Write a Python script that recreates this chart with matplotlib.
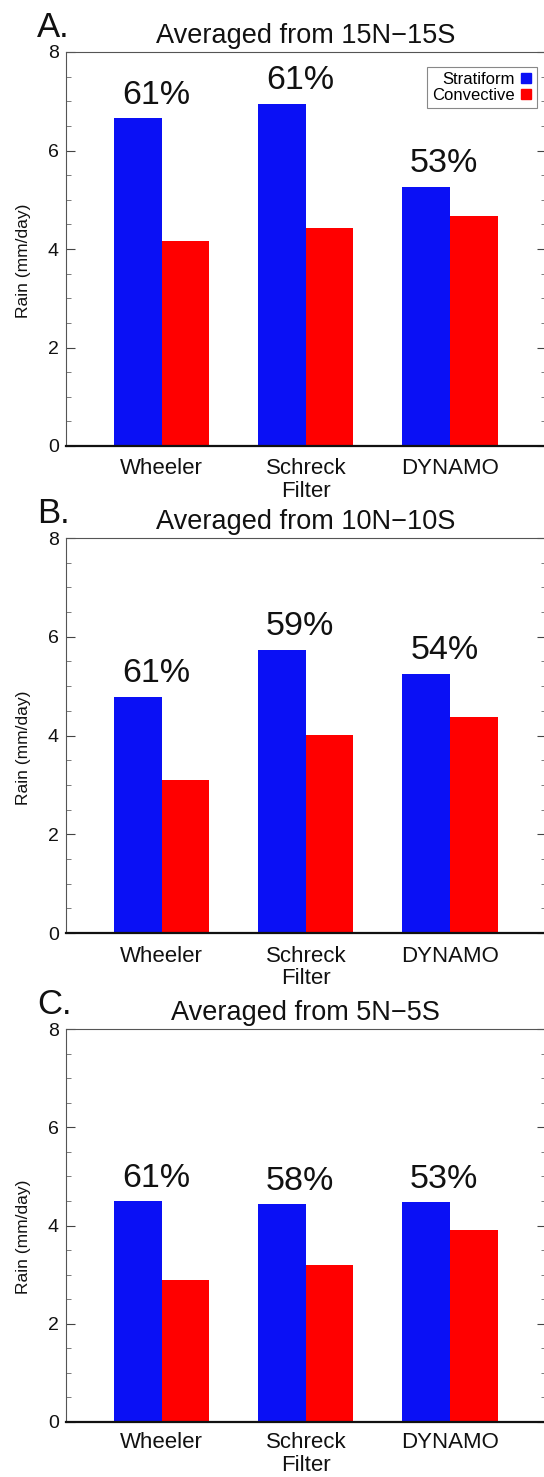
import matplotlib
matplotlib.use("Agg")
import matplotlib.pyplot as plt
from matplotlib.lines import Line2D
from matplotlib.ticker import MultipleLocator, FixedLocator
import numpy as np

plt.rcParams['font.family'] = ['Liberation Sans', 'DejaVu Sans']

# ---------------- data ----------------
categories = ["Wheeler", "Schreck\nFilter", "DYNAMO"]
panel_letters = ["A.", "B.", "C."]
panel_titles = ["Averaged from 15N\u221215S", "Averaged from 10N\u221210S", "Averaged from 5N\u22125S"]

stratiform_A = [6.65, 6.95, 5.26]
convective_A = [4.17, 4.43, 4.67]
percent_A = ["61%", "61%", "53%"]

stratiform_B = [4.78, 5.73, 5.24]
convective_B = [3.10, 4.01, 4.37]
percent_B = ["61%", "59%", "54%"]

stratiform_C = [4.49, 4.43, 4.47]
convective_C = [2.90, 3.19, 3.90]
percent_C = ["61%", "58%", "53%"]

series_labels = ["Stratiform", "Convective"]
yticks = [0, 2, 4, 6, 8]
ylabel = "Rain (mm/day)"

# ---------------- style ----------------
BLUE = "#0A10F5"
RED = "#FF0000"
W, H, DPI = 5.44, 14.77, 100
fig = plt.figure(figsize=(W, H), dpi=DPI)

left = 65.7 / 544
width = 480.3 / 544
panels = [
    (52, 446, stratiform_A, convective_A, percent_A),
    (538, 933, stratiform_B, convective_B, percent_B),
    (1029, 1422, stratiform_C, convective_C, percent_C),
]

x = np.arange(1, len(categories) + 1)
bw = 0.33

for i, (top, bot, strat, conv, pct) in enumerate(panels):
    ax = fig.add_axes([left, 1 - bot / 1477, width, (bot - top) / 1477])
    ax.bar(x - bw / 2, strat, width=bw, color=BLUE, edgecolor='none', zorder=2)
    ax.bar(x + bw / 2, conv, width=bw, color=RED, edgecolor='none', zorder=2)
    ax.set_xlim(0.335, 3.665)
    ax.set_ylim(0, 8)

    for xi, s, p in zip(x, strat, pct):
        ax.text(xi - 0.04, s + 0.3, p, ha='center', va='baseline', fontsize=24.5, color='#111111')

    # y axis ticks
    ax.yaxis.set_major_locator(FixedLocator(yticks))
    ax.yaxis.set_minor_locator(MultipleLocator(0.5))
    ax.tick_params(axis='y', which='major', direction='in', length=6.5, width=0.8,
                   labelsize=14, pad=5, right=True, color='#444444', labelcolor='#111111')
    ax.tick_params(axis='y', which='minor', direction='in', length=3.6, width=0.6,
                   right=True, color='#666666')

    # x axis ticks
    ax.set_xticks(x)
    ax.set_xticklabels(categories, fontsize=16, linespacing=1.08, color='#111111')
    ax.set_xticks(np.concatenate([x - bw / 2, x + bw / 2]), minor=True)
    ax.tick_params(axis='x', which='major', length=0, pad=9 if i < 2 else 7.5)
    ax.tick_params(axis='x', which='minor', direction='in', length=3.6, width=0.8,
                   color='#333333', top=False)

    ax.spines['bottom'].set_linewidth(1.6)
    ax.spines['bottom'].set_color('#111111')
    for s in ['left', 'top', 'right']:
        ax.spines[s].set_linewidth(0.8)
        ax.spines[s].set_color('#555555')
    ax.spines['bottom'].set_zorder(3)

    ax.set_ylabel(ylabel, fontsize=12.5, color='#111111')
    ax.yaxis.label.set_va('center')
    ax.yaxis.set_label_coords(-0.087, 0.47)

    ax.set_title(panel_titles[i], fontsize=19.5, pad=6.5, color='#111111')
    ax.text(-0.06, 1 + 15 / 394, panel_letters[i], transform=ax.transAxes,
            ha='left', va='baseline', fontsize=25, color='#111111')

    if i == 0:
        handles = [Line2D([], [], marker='s', linestyle='none', markersize=7,
                          markerfacecolor=BLUE, markeredgecolor=BLUE),
                   Line2D([], [], marker='s', linestyle='none', markersize=7,
                          markerfacecolor=RED, markeredgecolor=RED)]
        leg = ax.legend(handles, series_labels, loc='upper right',
                        bbox_to_anchor=(0.981, 0.962), borderaxespad=0,
                        markerfirst=False, fontsize=12, handlelength=0.7,
                        handletextpad=0.35, borderpad=0.3, labelspacing=0.05,
                        fancybox=False, framealpha=1, edgecolor='#888888')
        leg.get_frame().set_linewidth(0.8)

fig.savefig("out.png", dpi=DPI)
